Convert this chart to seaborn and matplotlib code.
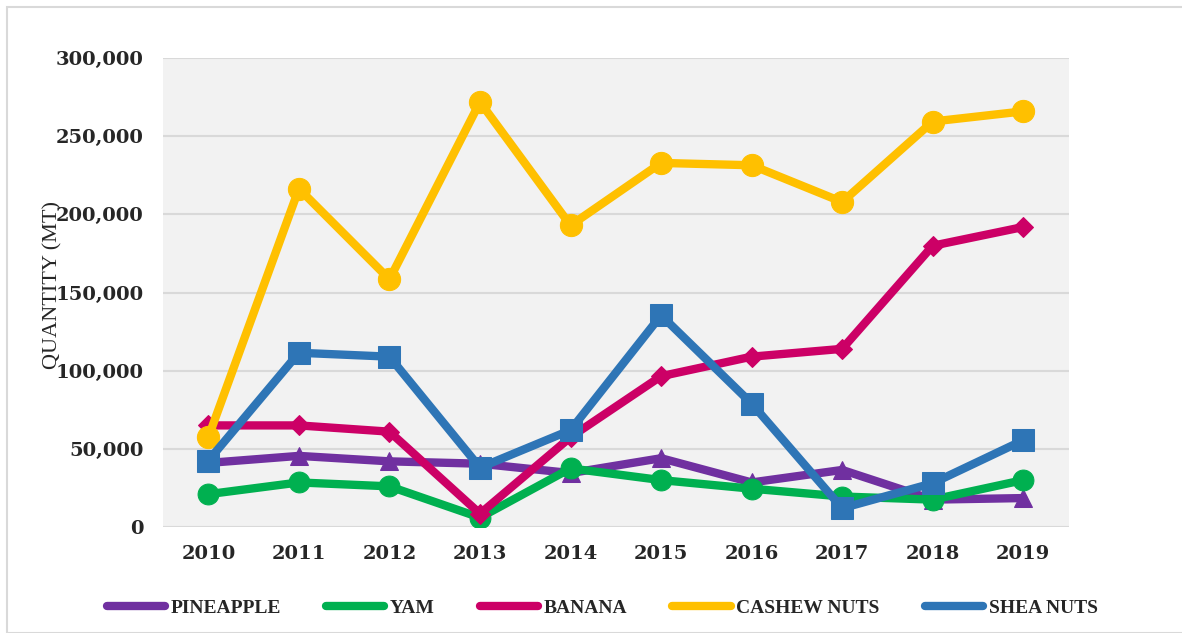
import pandas as pd
import seaborn as sns
import matplotlib
matplotlib.use('Agg')
import matplotlib.pyplot as plt
from matplotlib.patches import Rectangle
from matplotlib.ticker import FuncFormatter


years = ['2010', '2011', '2012', '2013', '2014', '2015', '2016', '2017', '2018', '2019']
pineapple = [41000, 45500, 42000, 40500, 34500, 44000, 28500, 36500, 17500, 18500]
yam = [21000, 28500, 26000, 6000, 37500, 30000, 24500, 19500, 17500, 30000]
banana = [65000, 65000, 61000, 8500, 57500, 96500, 109000, 114000, 180000, 192000]
cashew = [57500, 216500, 158500, 272000, 193000, 233000, 231500, 208000, 259500, 266000]
shea = [42500, 111500, 109000, 38000, 62000, 135500, 79000, 12000, 28000, 55500]

series_names = ['PINEAPPLE', 'YAM', 'BANANA', 'CASHEW NUTS', 'SHEA NUTS']
series_values = [pineapple, yam, banana, cashew, shea]

colors = ['#7030A0', '#00B050', '#CC0066', '#FFC000', '#2E75B6']
markers = ['^', 'o', 'D', 'o', 's']
marker_sizes = [13, 15, 10, 16, 16]

df = pd.DataFrame({'year': years})
for name, vals in zip(series_names, series_values):
    df[name] = vals
long_df = df.melt(id_vars='year', var_name='crop', value_name='qty')
long_df['x'] = long_df['year'].map({y: i for i, y in enumerate(years)})

sns.set_style('white')
plt.rcParams['font.family'] = ['DejaVu Serif']

fig = plt.figure(figsize=(11.82, 6.33), dpi=100)
ax = fig.add_axes([0.138, 0.1675, 0.766, 0.7405])

# outer chart frame
fig.patches.append(Rectangle((0.006, 0.0), 0.995, 0.989, transform=fig.transFigure,
                             fill=False, edgecolor='#D9D9D9', lw=1.5))

ax.set_facecolor('#F2F2F2')
for i, name in enumerate(series_names):
    sub = long_df[long_df['crop'] == name]
    sns.lineplot(data=sub, x='x', y='qty', ax=ax, color=colors[i], lw=4.5,
                 marker=markers[i], markersize=marker_sizes[i],
                 markeredgecolor=colors[i], label=name, zorder=3 + i)

ax.set_xlim(-0.5, len(years) - 0.5)
ax.set_ylim(0, 300000)
ax.set_yticks(range(0, 300001, 50000))
ax.yaxis.set_major_formatter(FuncFormatter(lambda v, p: f'{int(v):,}'))
ax.set_xticks(range(len(years)))
ax.set_xticklabels(years)
ax.grid(axis='y', color='#D9D9D9', lw=1.5)
ax.set_axisbelow(True)
for s in ax.spines.values():
    s.set_visible(False)
ax.tick_params(length=0, labelsize=14)
for lbl in ax.get_xticklabels() + ax.get_yticklabels():
    lbl.set_fontweight('bold')
ax.tick_params(axis='x', pad=13)
ax.tick_params(axis='y', pad=14)

ax.set_xlabel('')
ax.set_ylabel('')
fig.text(0.045, 0.55, 'QUANTITY (MT)', rotation=90, ha='center', va='center',
         fontsize=16, family='Liberation Serif')

handles, labels = ax.get_legend_handles_labels()
for h in handles:
    h.set_linewidth(6)
    h.set_solid_capstyle('round')
leg = ax.legend(handles, labels, loc='center', bbox_to_anchor=(0.485, -0.173), ncol=5,
                frameon=False, prop={'family': 'Liberation Serif', 'weight': 'bold', 'size': 14},
                handlelength=3.0, columnspacing=2.3, handletextpad=0.3, markerscale=0.2)

plt.savefig('out.png', dpi=100)
plt.close(fig)
